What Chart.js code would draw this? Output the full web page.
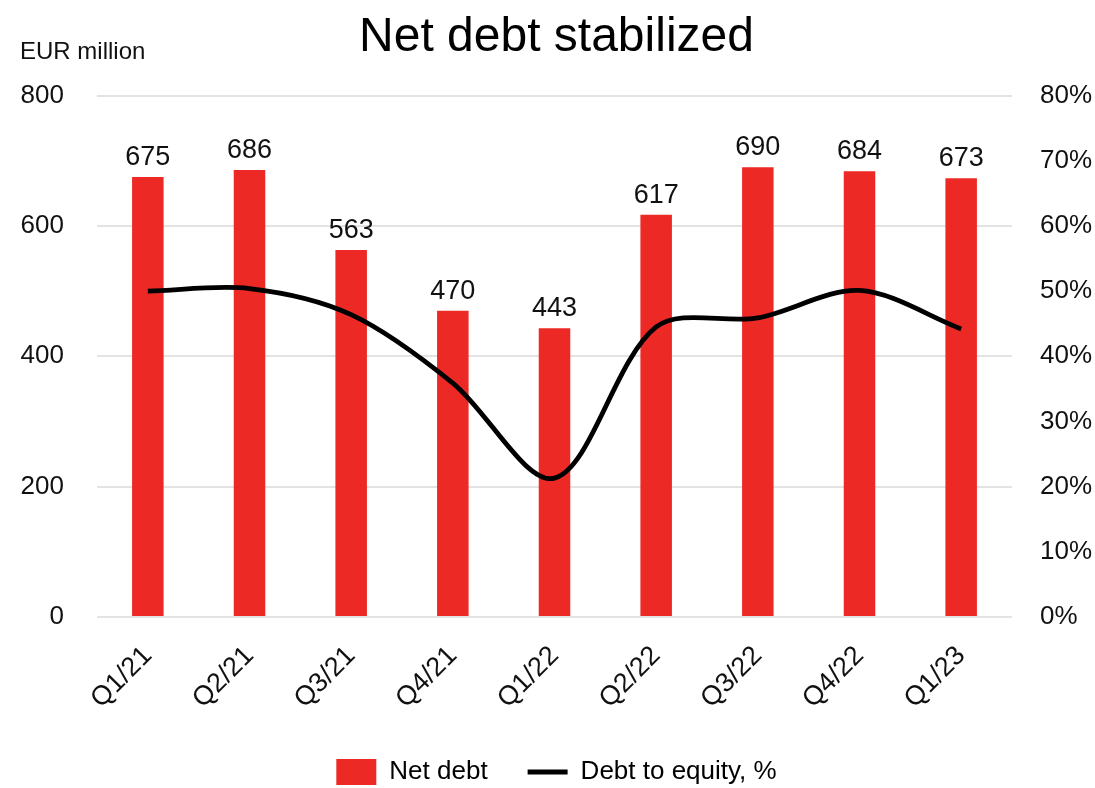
<!DOCTYPE html>
<html>
<head>
<meta charset="utf-8">
<title>Net debt stabilized</title>
<script src="https://cdn.jsdelivr.net/npm/chart.js@4.4.1/dist/chart.umd.min.js"></script>
<style>
  html, body { margin: 0; padding: 0; background: #fff; }
  #wrap { width: 1095px; height: 788px; }
</style>
</head>
<body>
<div id="wrap"><canvas id="debtChart" width="1095" height="788"></canvas></div>
<script>
// 분기별 순부채 (EUR million) 와 부채비율 (%)
const quarters = ['Q1/21', 'Q2/21', 'Q3/21', 'Q4/21', 'Q1/22', 'Q2/22', 'Q3/22', 'Q4/22', 'Q1/23'];
const netDebt = [675, 686, 563, 470, 443, 617, 690, 684, 673];
const debtToEquity = [50.0, 50.4, 46.4, 35.9, 21.3, 44.5, 45.9, 50.1, 44.2];

const FONT = 'Liberation Sans, Arial, sans-serif';
const RED = '#ED2926';
const GRID = '#e3e3e3';
const LEGEND_PAD = 40;
const LEGEND_FONT = 26;
const LEGEND_H = LEGEND_FONT + LEGEND_PAD + 10;

// 막대 위에 값 표시
const barLabels = {
  id: 'barLabels',
  afterDatasetsDraw(chart) {
    const ctx = chart.ctx;
    const meta = chart.getDatasetMeta(0);
    ctx.save();
    ctx.font = '27px ' + FONT;
    ctx.fillStyle = '#111';
    ctx.textAlign = 'center';
    ctx.textBaseline = 'alphabetic';
    meta.data.forEach((bar, i) => {
      ctx.fillText(String(netDebt[i]), bar.x, bar.y - 12);
    });
    ctx.restore();
  }
};

// 왼쪽 위 단위 표시
const unitLabel = {
  id: 'unitLabel',
  afterDraw(chart) {
    const ctx = chart.ctx;
    ctx.save();
    ctx.font = '24px ' + FONT;
    ctx.fillStyle = '#111';
    ctx.textAlign = 'left';
    ctx.textBaseline = 'middle';
    ctx.fillText('EUR million', 20, 52);
    ctx.restore();
  }
};

// 제목과 범례 위치 살짝 오른쪽(범례는 아래로도)
const boxShift = {
  id: 'boxShift',
  afterLayout(chart) {
    const lg = chart.legend;
    if (lg) {
      lg.top += 7;
      lg.bottom += 7;
      lg.left += 9;
      lg.right += 9;
    }
    const tb = chart.titleBlock;
    if (tb) {
      tb.left += 9;
      tb.right += 9;
      tb.top -= 1;
      tb.bottom -= 1;
    }
  }
};

const ctx = document.getElementById('debtChart').getContext('2d');

new Chart(ctx, {
  type: 'bar',
  data: {
    labels: quarters,
    datasets: [
      {
        label: 'Net debt',
        data: netDebt,
        backgroundColor: RED,
        yAxisID: 'y',
        barPercentage: 0.31,
        categoryPercentage: 1,
        order: 2
      },
      {
        type: 'line',
        label: 'Debt to equity, %',
        data: debtToEquity,
        borderColor: '#000',
        backgroundColor: '#000',
        borderWidth: 4.8,
        pointRadius: 0,
        tension: 0.32,
        yAxisID: 'y1',
        order: 1
      }
    ]
  },
  options: {
    responsive: false,
    animation: false,
    devicePixelRatio: 1,
    layout: { padding: { top: 0, right: 0, bottom: 0, left: 0 } },
    scales: {
      x: {
        grid: { display: false },
        border: { display: false },
        ticks: {
          minRotation: 45,
          maxRotation: 45,
          padding: 15,
          color: '#111',
          font: { family: FONT, size: 27 }
        },
        afterFit(scale) { scale.height = 788 - 617 - LEGEND_H; }
      },
      y: {
        position: 'left',
        min: 0,
        max: 800,
        ticks: {
          stepSize: 200,
          padding: 33,
          color: '#111',
          font: { family: FONT, size: 26 }
        },
        grid: { color: GRID, lineWidth: 2, drawTicks: false },
        border: { display: false },
        afterFit(scale) { scale.width = 97; }
      },
      y1: {
        position: 'right',
        min: 0,
        max: 80,
        ticks: {
          stepSize: 10,
          padding: 28,
          color: '#111',
          font: { family: FONT, size: 26 },
          callback: v => v + '%'
        },
        grid: { drawOnChartArea: false, drawTicks: false },
        border: { display: false },
        afterFit(scale) { scale.width = 83; }
      }
    },
    plugins: {
      title: {
        display: true,
        text: 'Net debt stabilized',
        color: '#000',
        font: { family: FONT, size: 48, weight: 'normal' },
        padding: { top: 10, bottom: 28 }
      },
      legend: {
        position: 'bottom',
        labels: {
          usePointStyle: true,
          pointStyleWidth: 40,
          padding: LEGEND_PAD,
          color: '#111',
          font: { family: FONT, size: LEGEND_FONT },
          generateLabels(chart) {
            return chart.data.datasets.map((ds, i) => ({
              text: ds.label,
              fillStyle: i === 0 ? RED : '#000',
              strokeStyle: i === 0 ? RED : '#000',
              lineWidth: i === 0 ? 0 : 4.8,
              pointStyle: i === 0 ? 'rect' : 'line',
              hidden: false,
              datasetIndex: i
            }));
          }
        }
      },
      tooltip: { enabled: false }
    }
  },
  plugins: [barLabels, unitLabel, boxShift]
});
</script>
</body>
</html>
